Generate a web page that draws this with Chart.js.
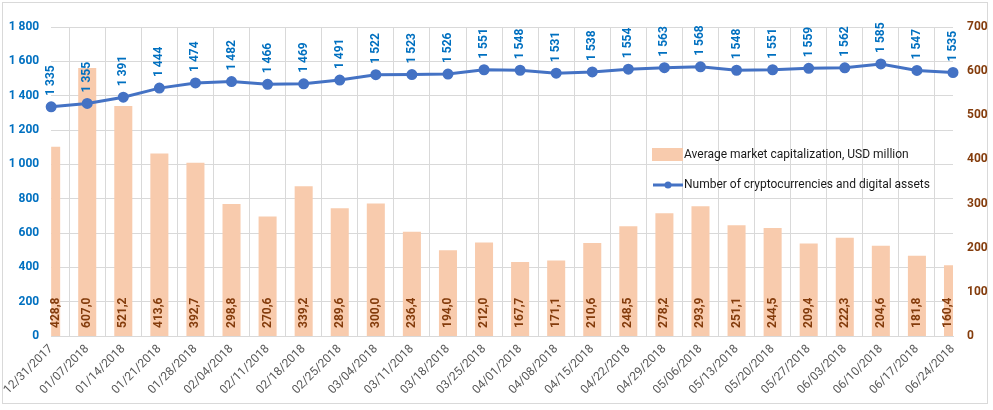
<!DOCTYPE html>
<html>
<head>
<meta charset="utf-8">
<script src="https://cdn.jsdelivr.net/npm/chart.js@4.4.1/dist/chart.umd.min.js"></script>
<style>
  html, body { margin: 0; padding: 0; background: #fff; }
  #wrap { width: 993px; height: 410px; }
</style>
</head>
<body>
<div id="wrap"><canvas id="chart" width="993" height="410"></canvas></div>
<script>
// weekly dates
var dates = ['12/31/2017','01/07/2018','01/14/2018','01/21/2018','01/28/2018','02/04/2018',
  '02/11/2018','02/18/2018','02/25/2018','03/04/2018','03/11/2018','03/18/2018','03/25/2018',
  '04/01/2018','04/08/2018','04/15/2018','04/22/2018','04/29/2018','05/06/2018','05/13/2018',
  '05/20/2018','05/27/2018','06/03/2018','06/10/2018','06/17/2018','06/24/2018'];

// average market capitalization, USD million (right axis)
var marketCap = [428.8, 607.0, 521.2, 413.6, 392.7, 298.8, 270.6, 339.2, 289.6, 300.0,
  236.4, 194.0, 212.0, 167.7, 171.1, 210.6, 248.5, 278.2, 293.9, 251.1, 244.5, 209.4,
  222.3, 204.6, 181.8, 160.4];

// number of cryptocurrencies and digital assets (left axis)
var assetCount = [1335, 1355, 1391, 1444, 1474, 1482, 1466, 1469, 1491, 1522, 1523, 1526,
  1551, 1548, 1531, 1538, 1554, 1563, 1568, 1548, 1551, 1559, 1562, 1585, 1547, 1535];

var seriesNames = ['Average market capitalization, USD million',
  'Number of cryptocurrencies and digital assets'];

var FONT = 'Roboto, "Liberation Sans", sans-serif';
var BLUE_TXT = '#0070C0';
var BROWN_TXT = '#843C0C';
var BAR_COL = '#F8CBAD';
var LINE_COL = '#4472C4';
var GRID = '#D9D9D9';

function spaced(n) {
  return String(n).replace(/\B(?=(\d{3})+(?!\d))/g, ' ');
}

var labelsPlugin = {
  id: 'labels',
  beforeDraw: function(chart) {
    var ctx = chart.ctx;
    ctx.save();
    ctx.fillStyle = '#fff';
    ctx.fillRect(0, 0, chart.width, chart.height);
    ctx.strokeStyle = GRID;
    ctx.lineWidth = 1;
    ctx.strokeRect(2.5, 2.5, 985, 401);
    ctx.restore();
  },
  afterDatasetsDraw: function(chart) {
    var ctx = chart.ctx;
    var area = chart.chartArea;
    ctx.save();
    // bar labels
    var barMeta = chart.getDatasetMeta(0);
    ctx.font = 'bold 12px ' + FONT;
    ctx.fillStyle = BROWN_TXT;
    ctx.textAlign = 'left';
    ctx.textBaseline = 'middle';
    barMeta.data.forEach(function(bar, i) {
      var l = Math.max(bar.x - bar.width / 2, area.left);
      var r = Math.min(bar.x + bar.width / 2, area.right);
      var cx = (l + r) / 2;
      ctx.save();
      ctx.translate(cx, area.bottom - 8);
      ctx.rotate(-Math.PI / 2);
      ctx.fillText(marketCap[i].toFixed(1).replace('.', ','), 0, 0);
      ctx.restore();
    });
    // line labels
    var lineMeta = chart.getDatasetMeta(1);
    ctx.fillStyle = BLUE_TXT;
    lineMeta.data.forEach(function(pt, i) {
      ctx.save();
      ctx.translate(pt.x, pt.y - 11);
      ctx.rotate(-Math.PI / 2);
      ctx.fillText(spaced(assetCount[i]), 0, 0);
      ctx.restore();
    });
    // legend
    ctx.font = '12px ' + FONT;
    ctx.fillStyle = '#000';
    ctx.fillStyle = BAR_COL;
    ctx.fillRect(652, 148, 31, 13);
    ctx.fillStyle = '#1a1a1a';
    ctx.fillText(seriesNames[0], 684, 155);
    ctx.strokeStyle = LINE_COL;
    ctx.lineWidth = 3;
    ctx.beginPath();
    ctx.moveTo(653, 185);
    ctx.lineTo(683, 185);
    ctx.stroke();
    ctx.fillStyle = LINE_COL;
    ctx.beginPath();
    ctx.arc(668, 185, 3.5, 0, Math.PI * 2);
    ctx.fill();
    ctx.fillStyle = '#1a1a1a';
    ctx.fillText(seriesNames[1], 684, 185);
    ctx.restore();
  }
};

new Chart(document.getElementById('chart').getContext('2d'), {
  type: 'bar',
  data: {
    labels: dates,
    datasets: [
      {
        type: 'bar',
        label: seriesNames[0],
        data: marketCap,
        backgroundColor: BAR_COL,
        yAxisID: 'y1',
        barPercentage: 0.5,
        categoryPercentage: 1,
        order: 2
      },
      {
        type: 'line',
        label: seriesNames[1],
        data: assetCount,
        borderColor: LINE_COL,
        backgroundColor: LINE_COL,
        borderWidth: 3,
        pointRadius: 4,
        pointBackgroundColor: LINE_COL,
        pointBorderColor: LINE_COL,
        tension: 0,
        yAxisID: 'y',
        order: 1
      }
    ]
  },
  options: {
    responsive: false,
    animation: false,
    layout: { padding: { top: 27, left: 0, right: 0, bottom: 0 } },
    plugins: {
      legend: { display: false },
      tooltip: { enabled: false }
    },
    scales: {
      x: {
        offset: false,
        grid: { color: GRID, drawTicks: false },
        border: { color: GRID },
        ticks: {
          autoSkip: false,
          maxRotation: 45,
          minRotation: 45,
          padding: 6,
          color: '#595959',
          font: { family: FONT, size: 12 }
        },
        afterFit: function(axis) { axis.height = 74; }
      },
      y: {
        position: 'left',
        min: 0,
        max: 1800,
        grid: { color: GRID, drawTicks: false },
        border: { display: false },
        ticks: {
          stepSize: 200,
          padding: 12,
          color: BLUE_TXT,
          font: { family: FONT, size: 12, weight: 'bold' },
          callback: function(v) { return spaced(v); }
        },
        afterFit: function(axis) { axis.width = 47; }
      },
      y1: {
        position: 'right',
        min: 0,
        max: 700,
        grid: { display: false, drawTicks: false },
        border: { display: false },
        ticks: {
          stepSize: 100,
          padding: 14,
          color: BROWN_TXT,
          font: { family: FONT, size: 12, weight: 'bold' }
        },
        afterFit: function(axis) { axis.width = 40; }
      }
    }
  },
  plugins: [labelsPlugin]
});
</script>
</body>
</html>
